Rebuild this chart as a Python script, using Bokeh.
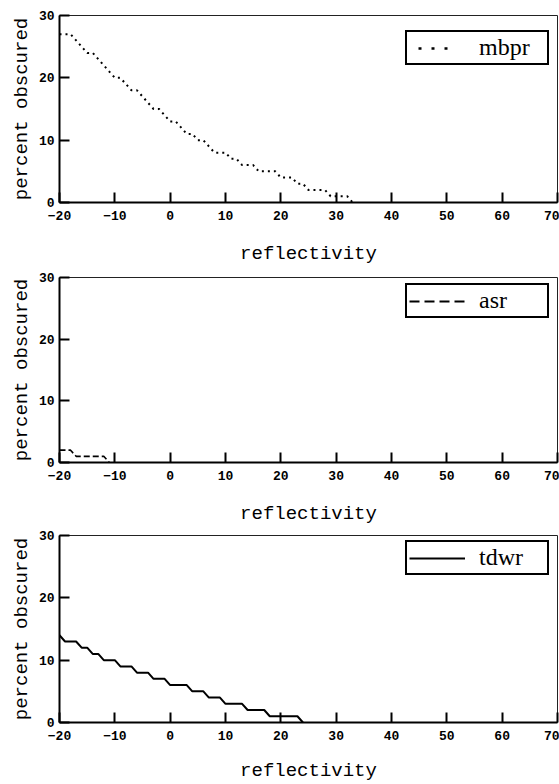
from bokeh.plotting import figure
from bokeh.models import Range1d, Legend, LegendItem, FixedTicker
from bokeh.layouts import column
from bokeh.embed import file_html
from bokeh.resources import INLINE

# ---- data ----
reflectivity_ticks = [-20, -10, 0, 10, 20, 30, 40, 50, 60, 70]
percent_ticks = [0, 10, 20, 30]

mbpr_x = [-20, -19, -18, -17, -16, -15, -14, -13, -12, -11, -10, -9, -8, -7, -6,
          -5, -4, -3, -2, -1, 0, 1, 2, 3, 4, 5, 6, 7, 8, 9, 10, 11, 12, 13, 14,
          15, 16, 17, 18, 19, 20, 21, 22, 23, 24, 25, 26, 27, 28, 29, 30, 31, 32, 33]
mbpr_y = [27, 27, 27, 26, 25, 24, 24, 23, 22, 21, 20, 20, 19, 18, 18,
          17, 16, 15, 15, 14, 13, 13, 12, 11, 11, 10, 10, 9, 8, 8, 8, 7, 7, 6, 6,
          6, 5, 5, 5, 5, 4, 4, 4, 3, 3, 2, 2, 2, 2, 1, 1, 1, 1, 0]

asr_x = [-20, -19, -18, -17, -16, -15, -14, -13, -12, -11]
asr_y = [2, 2, 2, 1, 1, 1, 1, 1, 1, 0]

tdwr_x = [-20, -19, -18, -17, -16, -15, -14, -13, -12, -11, -10, -9, -8, -7, -6,
          -5, -4, -3, -2, -1, 0, 1, 2, 3, 4, 5, 6, 7, 8, 9, 10, 11, 12, 13, 14,
          15, 16, 17, 18, 19, 20, 21, 22, 23, 24]
tdwr_y = [14, 13, 13, 13, 12, 12, 11, 11, 10, 10, 10, 9, 9, 9, 8,
          8, 8, 7, 7, 7, 6, 6, 6, 6, 5, 5, 5, 4, 4, 4, 3, 3, 3, 3, 2,
          2, 2, 2, 1, 1, 1, 1, 1, 1, 0]

series = [
    ("mbpr", mbpr_x, mbpr_y, "2 4", 2.0, "0 9 3 10 3 10 3 40", 2.5),
    ("asr", asr_x, asr_y, "6 3", 1.6, "10 5", 2.0),
    ("tdwr", tdwr_x, tdwr_y, "solid", 2.0, "solid", 2.0),
]

# (height, top border, bottom border, axis label standoff, legend y offset)
layouts = [
    (268, 15, 66, 20, 137),
    (260, 9, 66, 20, 144),
    (256, 7, 62, 17, 147),
]

AX_FONT = "Liberation Mono"
NAN = float("nan")

figs = []
for (name, xs, ys, dash, lw, ldash, llw), (h, top, bot, lstand, ly) in zip(series, layouts):
    p = figure(width=559, height=h, x_range=Range1d(-20, 70), y_range=Range1d(0, 30),
               output_backend="svg", toolbar_location=None,
               min_border_left=59, min_border_right=2,
               min_border_top=top, min_border_bottom=bot,
               x_axis_label="reflectivity", y_axis_label="percent obscured")
    p.grid.visible = False
    p.outline_line_color = "#222222"
    p.outline_line_width = 1
    p.background_fill_color = "white"
    p.border_fill_color = "white"

    for ax in (p.xaxis[0], p.yaxis[0]):
        ax.axis_line_width = 2
        ax.axis_line_color = "black"
        ax.major_tick_in = 10
        ax.major_tick_out = 0
        ax.minor_tick_in = 0
        ax.minor_tick_out = 0
        ax.major_tick_line_width = 2
        ax.major_tick_line_color = "black"
        ax.major_label_text_font = AX_FONT
        ax.major_label_text_font_style = "bold"
        ax.major_label_text_font_size = "13px"
        ax.major_label_text_color = "black"
        ax.axis_label_text_font = AX_FONT
        ax.axis_label_text_font_style = "normal"
        ax.axis_label_text_font_size = "19px"
        ax.axis_label_text_color = "black"
    p.xaxis[0].ticker = FixedTicker(ticks=reflectivity_ticks)
    p.yaxis[0].ticker = FixedTicker(ticks=percent_ticks)
    p.xaxis[0].major_label_standoff = 8
    p.yaxis[0].major_label_standoff = 5
    p.xaxis[0].axis_label_standoff = lstand
    p.yaxis[0].axis_label_standoff = 3

    p.line(xs, ys, line_color="black", line_width=lw, line_dash=dash)
    dummy = p.line(x=[NAN], y=[NAN], line_color="black", line_width=llw, line_dash=ldash)

    legend = Legend(items=[LegendItem(label=name, renderers=[dummy])],
                    location=(346, ly), margin=0, padding=2, spacing=0,
                    glyph_width=56, glyph_height=20, label_standoff=14,
                    label_width=66, label_height=20,
                    label_text_font="Liberation Serif", label_text_font_size="24px",
                    label_text_color="black",
                    border_line_color="black", border_line_width=2.5,
                    border_line_alpha=1.0,
                    background_fill_color="white", background_fill_alpha=1.0)
    p.add_layout(legend)
    figs.append(p)

layout = column(*figs, spacing=0)
open("out.html", "w").write(file_html(layout, INLINE))
